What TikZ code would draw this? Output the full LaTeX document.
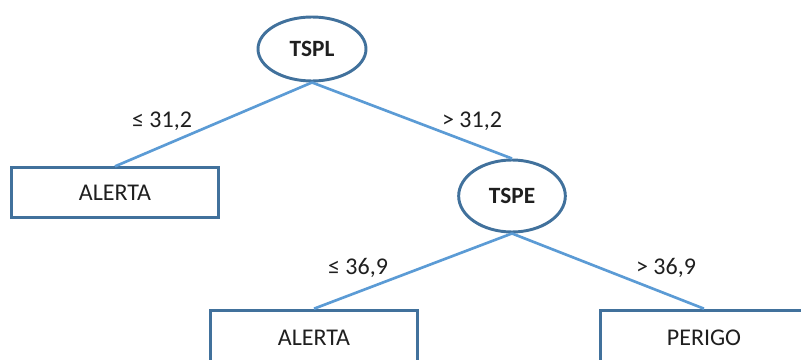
\documentclass[tikz,border=0pt]{standalone}
\usepackage{fontspec}
\setmainfont{Carlito}
\usetikzlibrary{shapes.geometric}

\definecolor{edgeblue}{HTML}{41719C}
\definecolor{linkblue}{HTML}{5B9BD5}
\definecolor{textgray}{HTML}{1F1F1F}

\begin{document}
\begin{tikzpicture}[x=0.75pt, y=-0.75pt,
	test/.style={shape=ellipse, draw=edgeblue, line width=2.2pt, fill=white,
		inner sep=0pt, text=textgray, font=\fontsize{17.5}{20}\selectfont\bfseries},
	leaf/.style={shape=rectangle, draw=edgeblue, line width=2.2pt, fill=white,
		minimum width=155pt, minimum height=37pt, inner sep=0pt,
		text=textgray, font=\fontsize{18}{20}\selectfont},
	cond/.style={text=textgray, font=\fontsize{18}{20}\selectfont, inner sep=0pt},
	link/.style={-, draw=linkblue, line width=2pt}]
	
	\useasboundingbox (0, 0) rectangle (801, 360);
	\clip (0, 0) rectangle (801, 360);
	
	\node[test, minimum width=81pt, minimum height=48pt] (tspl) at (312, 49)  {TSPL};
	\node[test, minimum width=80pt, minimum height=54pt] (tspe) at (512, 196) {TSPE};
	\node[leaf] (alerta1) at (115, 192.5) {ALERTA};
	\node[leaf, minimum height=41pt] (alerta2) at (314, 337.5) {ALERTA};
	\node[leaf, minimum height=41pt] (perigo)  at (704, 337.5) {PERIGO};
	
	\path[link] (tspl.south) edge (alerta1.north);
	\path[link] (tspl.south) edge (tspe.north);
	\path[link] (tspe.south) edge (alerta2.north);
	\path[link] (tspe.south) edge (perigo.north);
	
	\node[cond] (le1) at (162, 121) {≤ 31,2};
	\node[cond] (gt1) at (472, 121) {> 31,2};
	\node[cond] (le2) at (358, 268) {≤ 36,9};
	\node[cond] (gt2) at (666, 268) {> 36,9};
	
\end{tikzpicture}
\end{document}
